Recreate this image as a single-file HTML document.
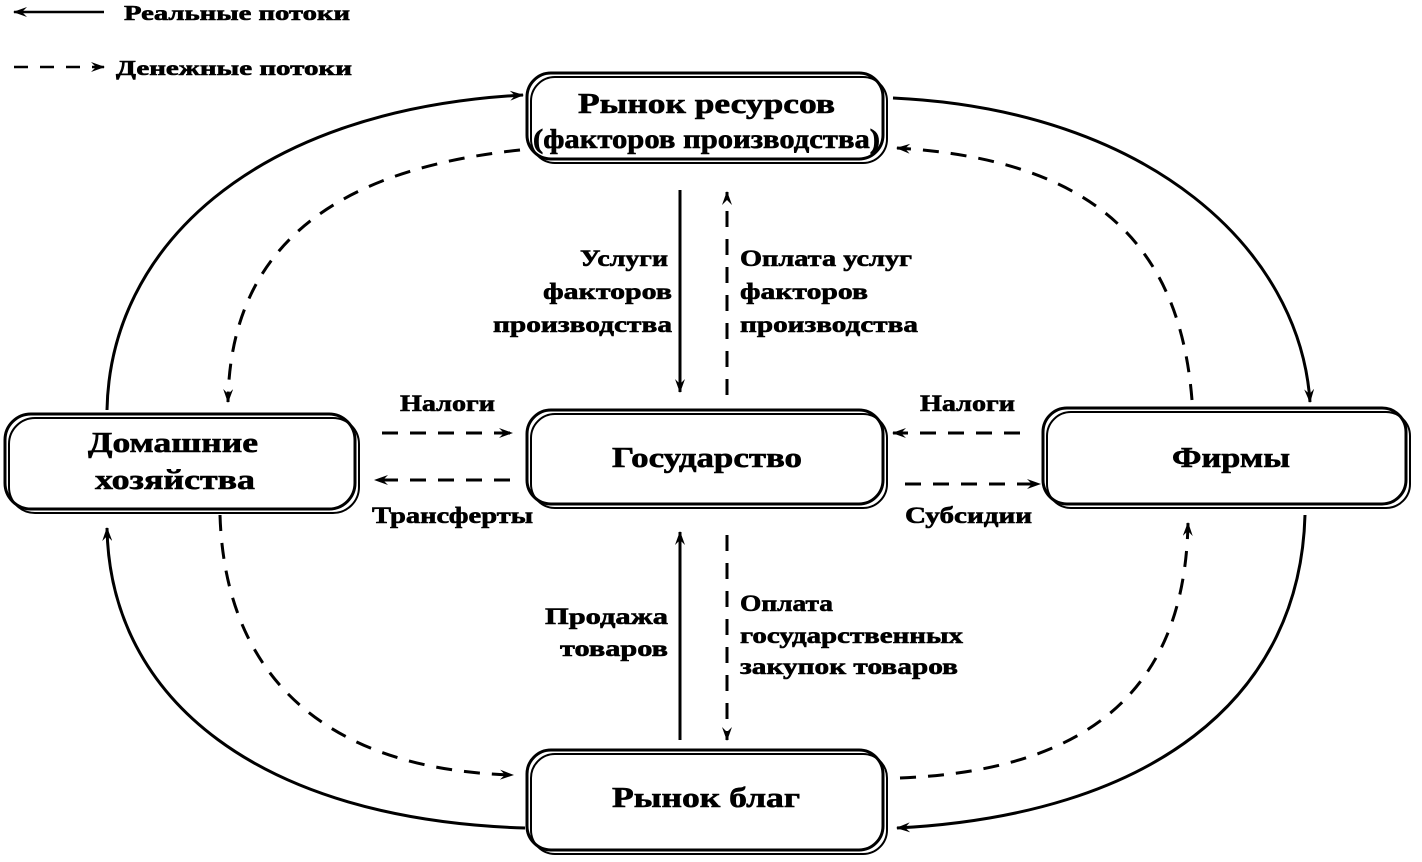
<!DOCTYPE html>
<html><head><meta charset="utf-8"><style>
html,body{margin:0;padding:0;background:#fff;}
svg{display:block}
text{font-family:"Liberation Serif",serif;font-weight:bold;fill:#000;stroke:#000;stroke-width:0.6;}
</style></head><body>
<svg width="1422" height="862" viewBox="0 0 1422 862" xmlns="http://www.w3.org/2000/svg">
<defs>
<marker id="a" markerWidth="14" markerHeight="10" refX="13" refY="5" orient="auto-start-reverse" markerUnits="userSpaceOnUse">
<path d="M0,0 L14,5 L0,10 L5,5 Z" fill="#000"/>
</marker>
</defs>
<g fill="none" stroke="#000" stroke-width="3">
<line x1="14" y1="12" x2="104" y2="12" marker-start="url(#a)" stroke-width="2.5"/>
<line x1="14" y1="67" x2="104" y2="67" stroke-dasharray="14,12" marker-end="url(#a)" stroke-width="2.5"/>

<rect x="531" y="77" width="356" height="86" rx="24" stroke-width="2"/>
<rect x="527" y="73" width="356" height="86" rx="24"/>
<rect x="9" y="418" width="350" height="95" rx="26" stroke-width="2"/>
<rect x="5" y="414" width="350" height="95" rx="26"/>
<rect x="531" y="414" width="356" height="94" rx="24" stroke-width="2"/>
<rect x="527" y="410" width="356" height="94" rx="24"/>
<rect x="1047" y="412" width="363" height="96" rx="24" stroke-width="2"/>
<rect x="1043" y="408" width="363" height="96" rx="24"/>
<rect x="531" y="754" width="356" height="100" rx="24" stroke-width="2"/>
<rect x="527" y="750" width="356" height="100" rx="24"/>

<path d="M107,410 C110,250 250,110 523,95" marker-end="url(#a)"/>
<path d="M893,98 C1150,110 1300,250 1310,402" marker-end="url(#a)"/>
<path d="M1305,515 C1300,700 1150,815 897,828" marker-end="url(#a)"/>
<path d="M525,828 C260,820 110,700 107,528" marker-end="url(#a)"/>

<g stroke-dasharray="16,12">
<path d="M520,150 C330,170 230,250 228,402" marker-end="url(#a)"/>
<path d="M1192,400 C1180,250 1100,160 897,148" marker-end="url(#a)"/>
<path d="M220,515 C225,680 330,770 513,775" marker-end="url(#a)"/>
<path d="M900,778 C1100,770 1185,680 1188,523" marker-end="url(#a)"/>
<line x1="727" y1="395" x2="727" y2="192" marker-end="url(#a)"/>
<line x1="727" y1="535" x2="727" y2="740" marker-end="url(#a)"/>
<line x1="382" y1="433" x2="512" y2="433" marker-end="url(#a)"/>
<line x1="510" y1="480" x2="375" y2="480" marker-end="url(#a)"/>
<line x1="1020" y1="433" x2="893" y2="433" marker-end="url(#a)"/>
<line x1="905" y1="484" x2="1040" y2="484" marker-end="url(#a)"/>
</g>
<line x1="680" y1="190" x2="680" y2="392" marker-end="url(#a)"/>
<line x1="680" y1="740" x2="680" y2="532" marker-end="url(#a)"/>
</g>

<g lengthAdjust="spacingAndGlyphs">
<text x="124" y="20" font-size="21" textLength="226" lengthAdjust="spacingAndGlyphs">Реальные потоки</text>
<text x="116" y="75" font-size="21" textLength="236" lengthAdjust="spacingAndGlyphs">Денежные потоки</text>

<text x="578" y="113" font-size="28" textLength="257" lengthAdjust="spacingAndGlyphs">Рынок ресурсов</text>
<text x="533" y="148" font-size="27" textLength="347" lengthAdjust="spacingAndGlyphs">(факторов производства)</text>
<text x="88" y="452" font-size="28" textLength="170" lengthAdjust="spacingAndGlyphs">Домашние</text>
<text x="95" y="489" font-size="28" textLength="160" lengthAdjust="spacingAndGlyphs">хозяйства</text>
<text x="612" y="467" font-size="28" textLength="190" lengthAdjust="spacingAndGlyphs">Государство</text>
<text x="1172" y="467" font-size="28" textLength="118" lengthAdjust="spacingAndGlyphs">Фирмы</text>
<text x="612" y="807" font-size="28" textLength="188" lengthAdjust="spacingAndGlyphs">Рынок благ</text>

<text x="580" y="266" font-size="23" textLength="88" lengthAdjust="spacingAndGlyphs">Услуги</text>
<text x="543" y="299" font-size="23" textLength="129" lengthAdjust="spacingAndGlyphs">факторов</text>
<text x="493" y="332" font-size="23" textLength="179" lengthAdjust="spacingAndGlyphs">производства</text>
<text x="740" y="266" font-size="23" textLength="172" lengthAdjust="spacingAndGlyphs">Оплата услуг</text>
<text x="740" y="299" font-size="23" textLength="128" lengthAdjust="spacingAndGlyphs">факторов</text>
<text x="740" y="332" font-size="23" textLength="178" lengthAdjust="spacingAndGlyphs">производства</text>
<text x="400" y="411" font-size="23" textLength="95" lengthAdjust="spacingAndGlyphs">Налоги</text>
<text x="372" y="523" font-size="23" textLength="161" lengthAdjust="spacingAndGlyphs">Трансферты</text>
<text x="920" y="411" font-size="23" textLength="95" lengthAdjust="spacingAndGlyphs">Налоги</text>
<text x="905" y="523" font-size="23" textLength="127" lengthAdjust="spacingAndGlyphs">Субсидии</text>
<text x="545" y="624" font-size="23" textLength="123" lengthAdjust="spacingAndGlyphs">Продажа</text>
<text x="560" y="656" font-size="23" textLength="108" lengthAdjust="spacingAndGlyphs">товаров</text>
<text x="740" y="611" font-size="23" textLength="93" lengthAdjust="spacingAndGlyphs">Оплата</text>
<text x="740" y="643" font-size="23" textLength="223" lengthAdjust="spacingAndGlyphs">государственных</text>
<text x="740" y="674" font-size="23" textLength="218" lengthAdjust="spacingAndGlyphs">закупок товаров</text>
</g>
</svg>
</body></html>
